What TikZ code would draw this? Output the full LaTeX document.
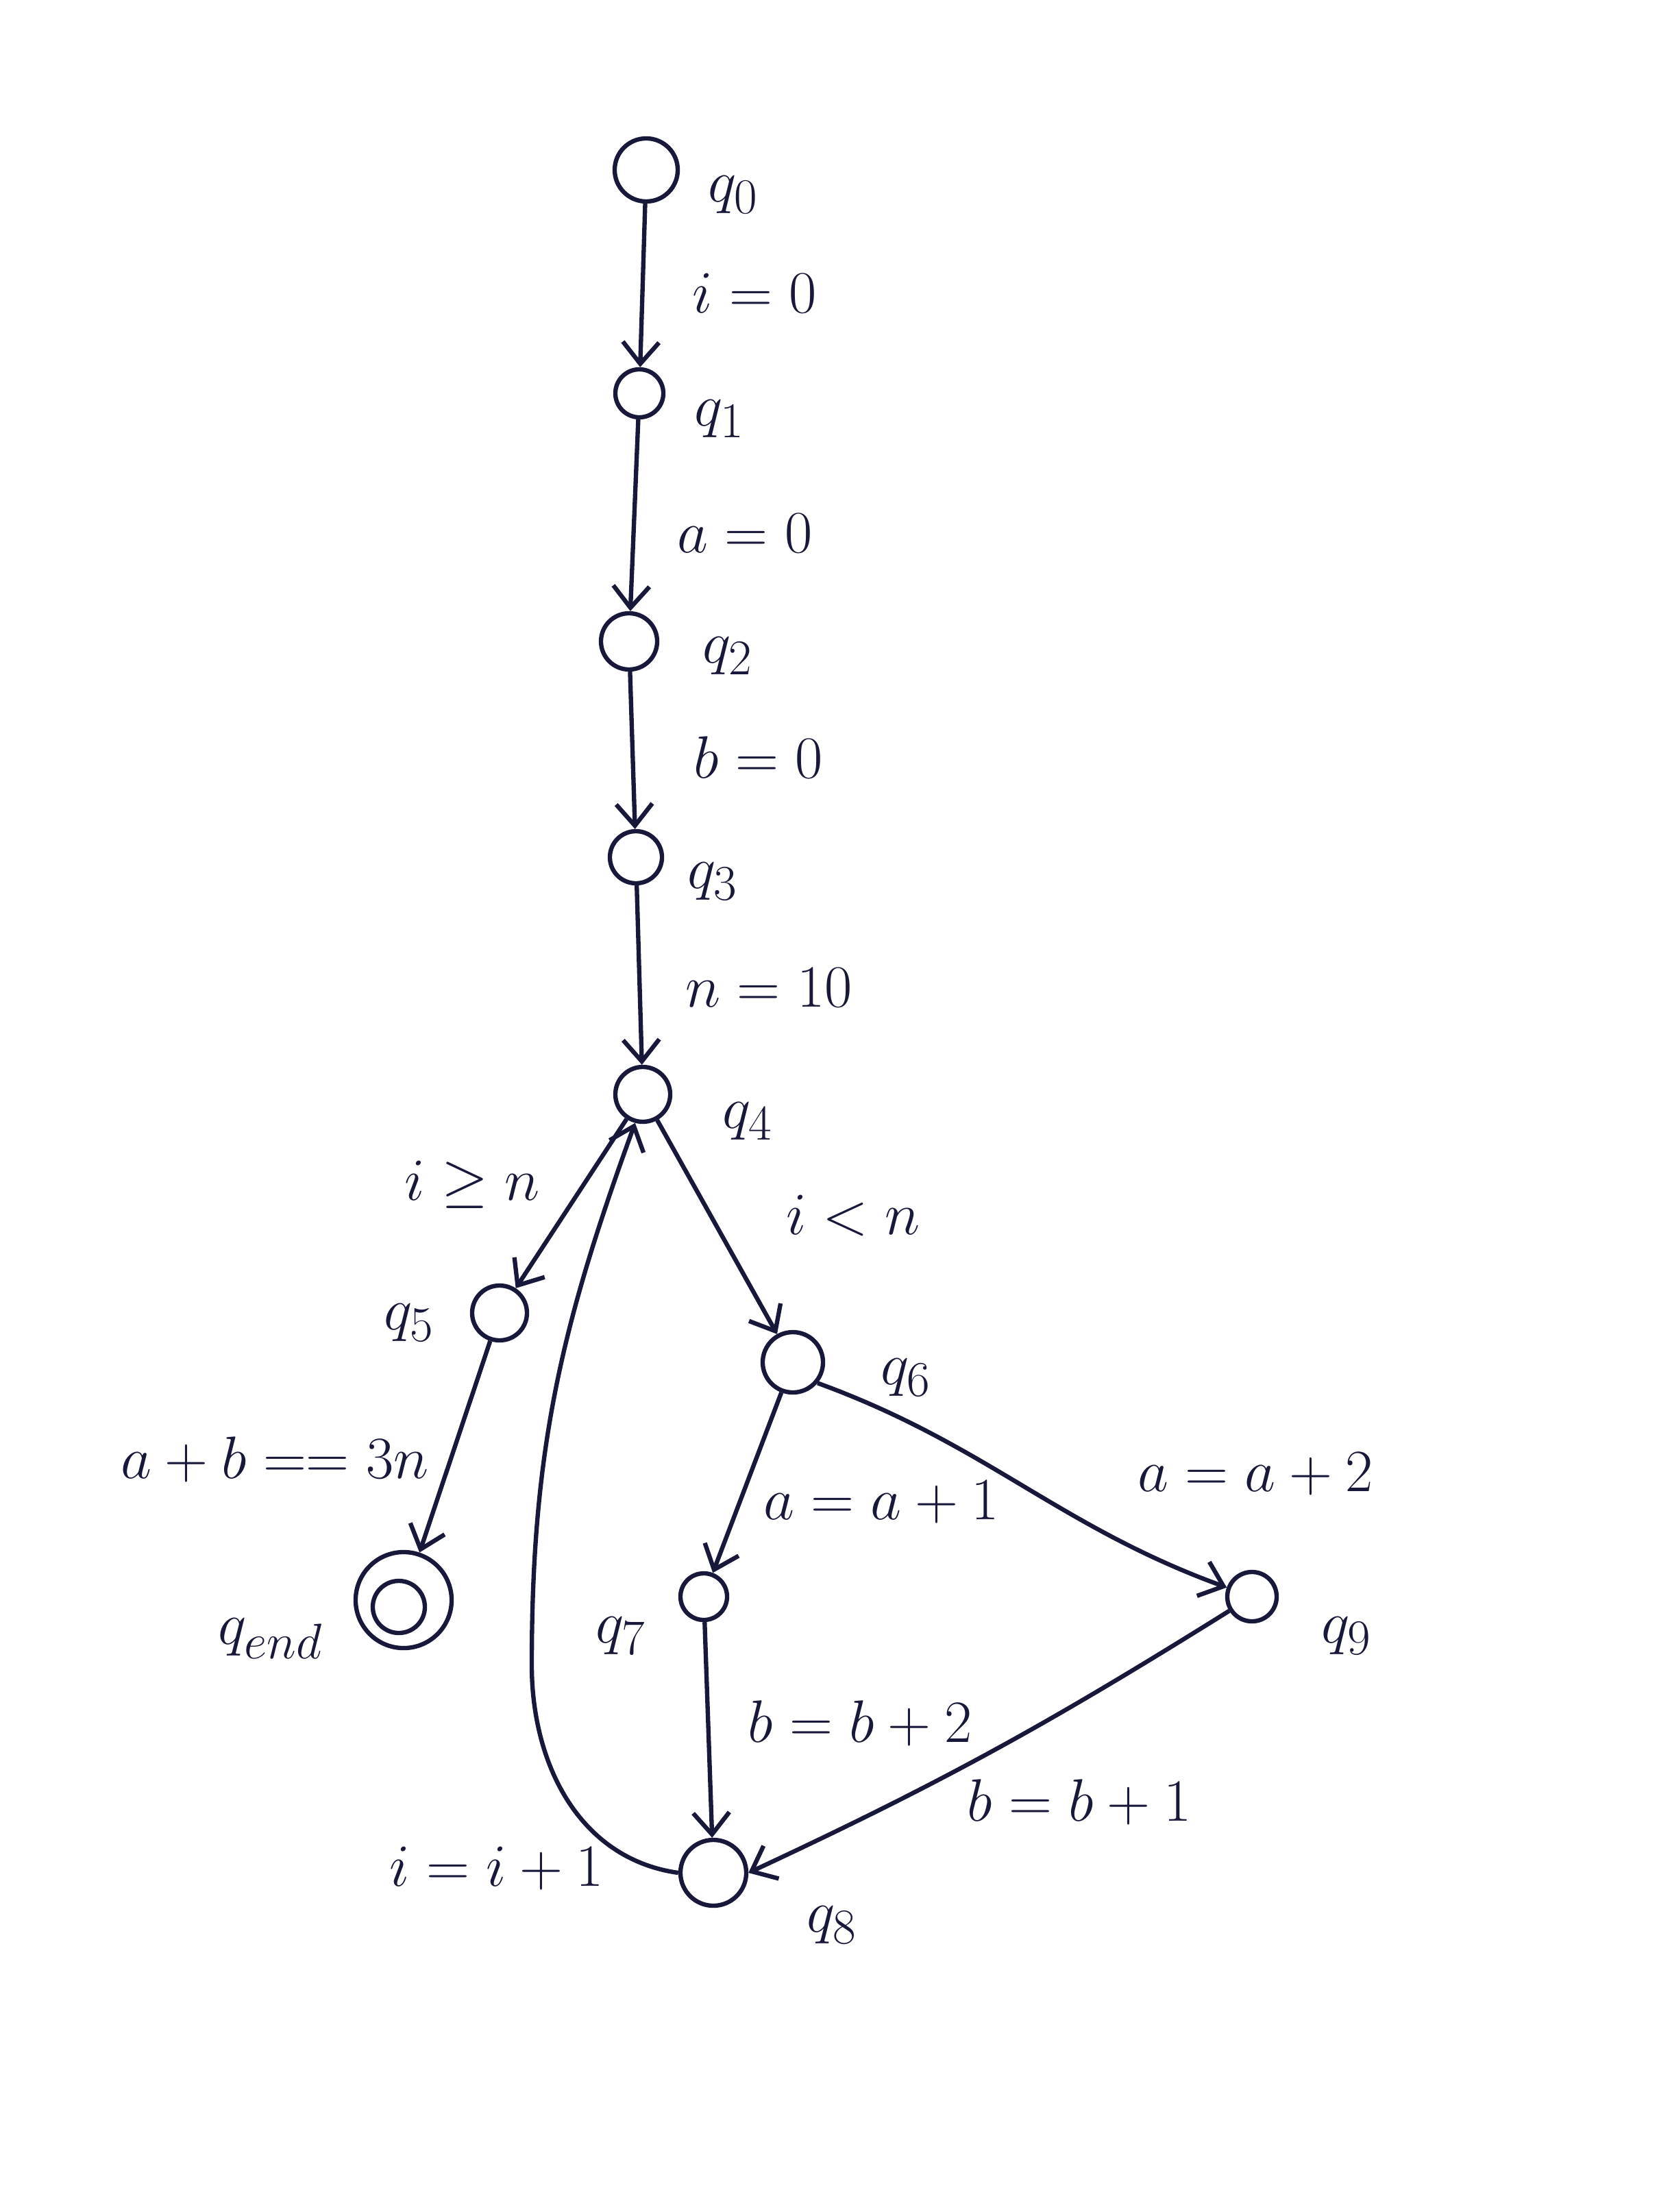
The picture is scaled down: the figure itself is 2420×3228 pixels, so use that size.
\documentclass[tikz,border=0pt]{standalone}
\usetikzlibrary{arrows.meta}
\definecolor{ink}{RGB}{24,24,58}
\begin{document}
\begin{tikzpicture}[x=0.01cm,y=-0.01cm,
  st/.style={circle,draw=ink,line width=1.8pt,inner sep=0pt},
  slab/.style={text=ink,font=\fontsize{28}{32}\selectfont,inner sep=0pt},
  elab/.style={text=ink,font=\fontsize{24}{28}\selectfont,inner sep=0pt},
  tr/.style={draw=ink,line width=1.8pt,-{Straight Barb[length=9pt,width=15pt]}}]
\path[use as bounding box,fill=white] (0,0) rectangle (2420,3228);
% states
\node[st,minimum size=0.92cm] (q0) at (943,248) {};
\node[st,minimum size=0.70cm] (q1) at (933,574) {};
\node[st,minimum size=0.82cm] (q2) at (918,936) {};
\node[st,minimum size=0.76cm] (q3) at (928,1251) {};
\node[st,minimum size=0.80cm] (q4) at (938,1597) {};
\node[st,minimum size=0.80cm] (q5) at (729,1916) {};
\node[st,minimum size=1.40cm] (qend) at (589,2335) {};
\node[st,minimum size=0.76cm] (qendin) at (582,2345) {};
\node[st,minimum size=0.88cm] (q6) at (1157,1988) {};
\node[st,minimum size=0.68cm] (q7) at (1027,2330) {};
\node[st,minimum size=0.96cm] (q8) at (1041,2733) {};
\node[st,minimum size=0.72cm] (q9) at (1827,2330) {};
% state labels
\node[slab] (l0) at (1070,284) {$q_0$};
\node[slab] (l1) at (1050,611) {$q_1$};
\node[slab] (l2) at (1062,957) {$q_2$};
\node[slab] (l3) at (1040,1286) {$q_3$};
\node[slab] (l4) at (1091,1636) {$q_4$};
\node[slab] (l5) at (597,1930) {$q_5$};
\node[slab] (le) at (395,2391) {$q_{end}$};
\node[slab] (l6) at (1322,2010) {$q_6$};
\node[slab] (l7) at (906,2387) {$q_7$};
\node[slab] (l8) at (1214,2809) {$q_8$};
\node[slab] (l9) at (1965,2387) {$q_9$};
% transitions
\draw[tr] (q0) -- (q1);
\draw[tr] (q1) -- (q2);
\draw[tr] (q2) -- (q3);
\draw[tr] (q3) -- (q4);
\draw[tr] (q4) -- (q5);
\draw[tr] (q4) -- (q6);
\draw[tr] (q5) -- (qend);
\draw[tr] (q6) -- (q7);
\draw[tr] (q6.-40) to[out=-20,in=160] (q9);
\draw[tr] (q7) -- (q8);
\draw[tr] (q9) to[out=-148,in=25] (q8.east);
\coordinate (lp) at (776,2430);
\draw[tr] (q8.west) to[out=172,in=-90] (lp) to[out=90,in=-110] (q4.-105);
% transition labels
\node[elab] (t01) at (1101,428) {$i=0$};
\node[elab] (t12) at (1087,778) {$a=0$};
\node[elab] (t23) at (1107,1105) {$b=0$};
\node[elab] (t34) at (1122,1441) {$n=10$};
\node[elab] (t45) at (689,1729) {$i\geq n$};
\node[elab] (t46) at (1245,1774) {$i<n$};
\node[elab] (t5e) at (401,2130) {$a+b==3n$};
\node[elab] (t67) at (1286,2192) {$a=a+1$};
\node[elab] (t69) at (1832,2151) {$a=a+2$};
\node[elab] (t78) at (1255,2515) {$b=b+2$};
\node[elab] (t98) at (1575,2630) {$b=b+1$};
\node[elab] (t84) at (725,2727) {$i=i+1$};
\end{tikzpicture}
\end{document}
